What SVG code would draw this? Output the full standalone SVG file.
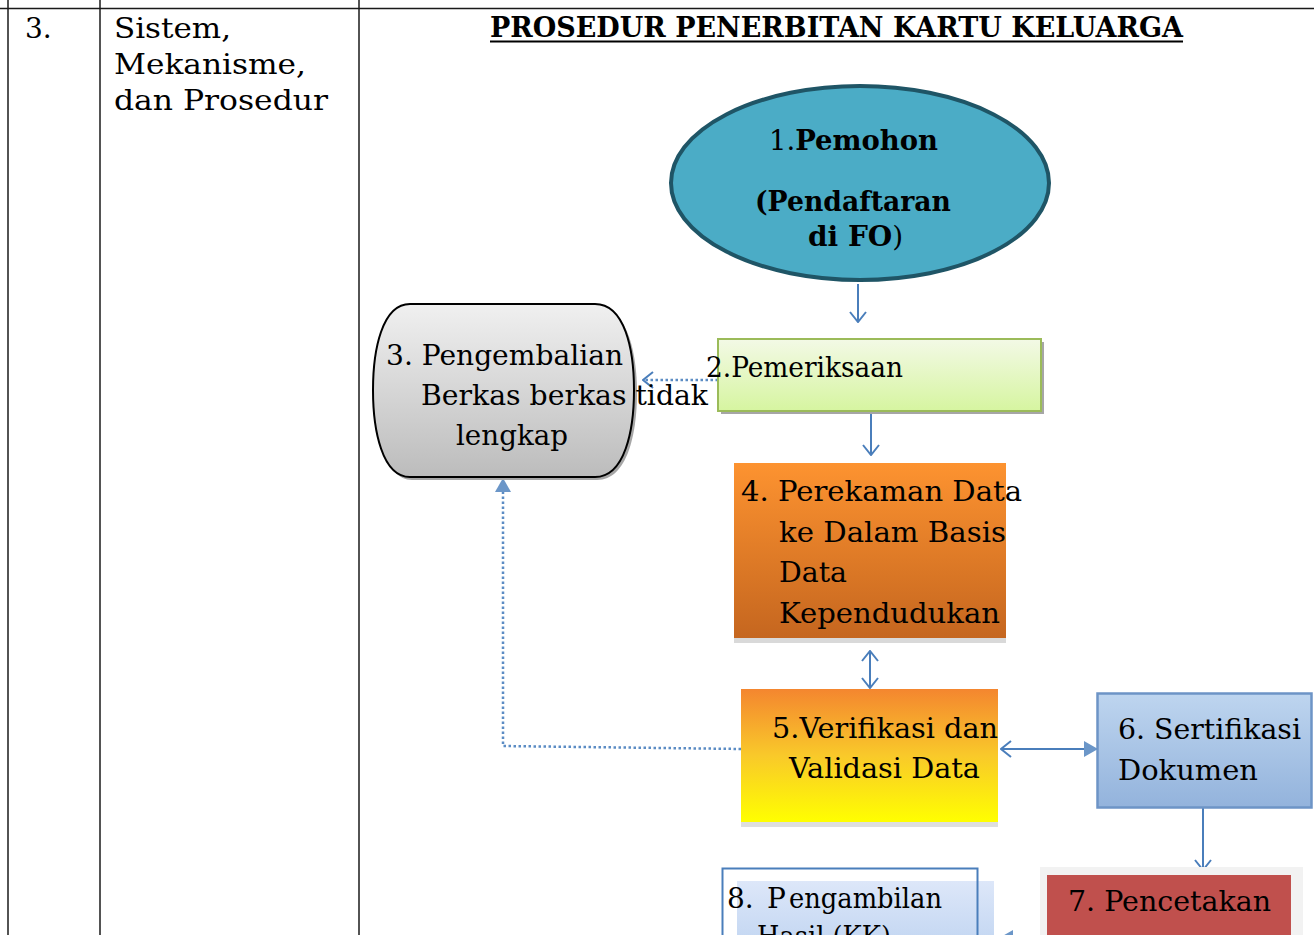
<svg xmlns="http://www.w3.org/2000/svg" width="1314" height="935" viewBox="0 0 1314 935">
  <style>
    .t { font-family: "DejaVu Serif", "Liberation Serif", serif; font-size: 28px; fill: #000; }
    .b { font-weight: bold; }
    .grid { stroke: #1a1a1a; stroke-width: 1.5; fill: none; }
    .conn { stroke: #4a7ebb; stroke-width: 2; fill: none; }
    .dot { stroke: #5b8cc4; stroke-width: 2.5; fill: none; stroke-dasharray: 2.5 2.5; }
  </style>
  <defs>
    <marker id="open" markerUnits="userSpaceOnUse" viewBox="0 0 12 18" refX="11" refY="9" markerWidth="12" markerHeight="18" orient="auto-start-reverse">
      <path d="M1,1 L11,9 L1,17" fill="none" stroke="#4a7ebb" stroke-width="2"/>
    </marker>
    <marker id="fill" markerUnits="userSpaceOnUse" viewBox="0 0 14 16" refX="13" refY="8" markerWidth="14" markerHeight="16" orient="auto">
      <path d="M0,0 L14,8 L0,16 Z" fill="#6b96c8"/>
    </marker>
    <linearGradient id="g2" x1="0" y1="0" x2="0" y2="1">
      <stop offset="0" stop-color="#f3f9e6"/>
      <stop offset="1" stop-color="#d6f5a0"/>
    </linearGradient>
    <linearGradient id="g3" x1="0" y1="0" x2="0" y2="1">
      <stop offset="0" stop-color="#f0f0f0"/>
      <stop offset="1" stop-color="#bcbcbc"/>
    </linearGradient>
    <linearGradient id="g4" x1="0" y1="0" x2="0" y2="1">
      <stop offset="0" stop-color="#fd9330"/>
      <stop offset="1" stop-color="#c5661f"/>
    </linearGradient>
    <linearGradient id="g5" x1="0" y1="0" x2="0" y2="1">
      <stop offset="0" stop-color="#f4862f"/>
      <stop offset="0.5" stop-color="#f9c92a"/>
      <stop offset="1" stop-color="#ffff00"/>
    </linearGradient>
    <linearGradient id="g6" x1="0" y1="0" x2="0" y2="1">
      <stop offset="0" stop-color="#bed5ef"/>
      <stop offset="1" stop-color="#93b3dc"/>
    </linearGradient>
    <linearGradient id="g8" x1="0" y1="0" x2="0" y2="1">
      <stop offset="0" stop-color="#dde7f9"/>
      <stop offset="1" stop-color="#c4d7f2"/>
    </linearGradient>
  </defs>

  <rect width="1314" height="935" fill="#fff"/>

  <!-- table frame -->
  <g id="table">
    <line class="grid" x1="0" y1="8.5" x2="1314" y2="8.5" stroke-width="2"/>
    <line class="grid" x1="8" y1="0" x2="8" y2="935"/>
    <line class="grid" x1="100" y1="0" x2="100" y2="935"/>
    <line class="grid" x1="359" y1="0" x2="359" y2="935"/>
    <text class="t" x="25" y="38">3.</text>
    <text class="t" x="114" y="38" textLength="117" lengthAdjust="spacingAndGlyphs">Sistem,</text>
    <text class="t" x="114" y="74" textLength="192" lengthAdjust="spacingAndGlyphs">Mekanisme,</text>
    <text class="t" x="114" y="110" textLength="214" lengthAdjust="spacingAndGlyphs">dan Prosedur</text>
  </g>

  <!-- heading -->
  <g id="title">
    <text class="t b" x="490" y="37" font-size="24" textLength="693" lengthAdjust="spacingAndGlyphs">PROSEDUR PENERBITAN  KARTU KELUARGA</text>
    <line x1="490" y1="41.5" x2="1183" y2="41.5" stroke="#000" stroke-width="2"/>
  </g>

  <!-- connectors -->
  <g id="connectors">
    <line class="conn" x1="858" y1="284" x2="858" y2="322" marker-end="url(#open)"/>
    <line class="conn" x1="871" y1="413" x2="871" y2="455" marker-end="url(#open)"/>
    <line class="conn" x1="870" y1="651" x2="870" y2="688" marker-start="url(#open)" marker-end="url(#open)"/>
    <line class="conn" x1="1001" y1="749" x2="1097" y2="749" stroke="#6b96c8" marker-start="url(#open)" marker-end="url(#fill)"/>
    <line class="conn" x1="1203" y1="808" x2="1203" y2="870" marker-end="url(#open)"/>
    <line class="dot" x1="718" y1="380" x2="643" y2="380" marker-end="url(#open)"/>
    <polyline class="dot" points="741,749 503,746 503,479" stroke="#6b96c8" marker-end="url(#fill)"/>
    <line class="conn" x1="1040" y1="938" x2="1000" y2="938" stroke="#6b96c8" marker-end="url(#fill)"/>
  </g>

  <!-- 1. applicant -->
  <g id="node1">
    <ellipse cx="860" cy="183" rx="189" ry="97" fill="#4bacc6" stroke="#1f5566" stroke-width="4"/>
    <text class="t" x="769" y="150" font-size="24" textLength="169" lengthAdjust="spacingAndGlyphs">1.<tspan class="b">Pemohon</tspan></text>
    <text class="t b" x="755" y="211" font-size="24" textLength="196" lengthAdjust="spacingAndGlyphs">(Pendaftaran</text>
    <text class="t" x="808" y="246" font-size="24"><tspan class="b">di FO</tspan>)</text>
  </g>

  <!-- 2. check -->
  <g id="node2">
    <rect x="721" y="342" width="323" height="72" fill="#a6a6a6"/>
    <rect x="718" y="339" width="323" height="72" fill="url(#g2)" stroke="#9bbb59" stroke-width="2"/>
    <text class="t" x="706" y="377" font-size="25" textLength="197" lengthAdjust="spacingAndGlyphs">2.Pemeriksaan</text>
  </g>

  <!-- 3. return of incomplete files -->
  <g id="node3">
    <path d="M412,307 L597,307 C627,307 637,352 637,393 C637,434 627,480 597,480 L412,480 C385,480 376,434 376,393 C376,352 385,307 412,307 Z" fill="#a6a6a6"/>
    <path d="M410,304 L595,304 C625,304 634,350 634,390 C634,430 625,477 595,477 L410,477 C382,477 373,430 373,390 C373,350 382,304 410,304 Z" fill="url(#g3)" stroke="#000" stroke-width="2"/>
    <text class="t" x="386" y="365" textLength="237" lengthAdjust="spacingAndGlyphs">3. Pengembalian</text>
    <text class="t" x="421" y="405" textLength="287" lengthAdjust="spacingAndGlyphs">Berkas berkas tidak</text>
    <text class="t" x="456" y="445" textLength="112" lengthAdjust="spacingAndGlyphs">lengkap</text>
  </g>

  <!-- 4. data recording -->
  <g id="node4">
    <rect x="734" y="638" width="272" height="5" fill="#d9d9d9"/>
    <rect x="734" y="463" width="272" height="175" fill="url(#g4)"/>
    <text class="t" x="741" y="501" textLength="281" lengthAdjust="spacingAndGlyphs">4. Perekaman Data</text>
    <text class="t" x="779" y="542" textLength="227" lengthAdjust="spacingAndGlyphs">ke Dalam Basis</text>
    <text class="t" x="779" y="582" textLength="68" lengthAdjust="spacingAndGlyphs">Data</text>
    <text class="t" x="779" y="623" textLength="221" lengthAdjust="spacingAndGlyphs">Kependudukan</text>
  </g>

  <!-- 5. verification -->
  <g id="node5">
    <rect x="741" y="822" width="257" height="5" fill="#dedede"/>
    <rect x="741" y="689" width="257" height="133" fill="url(#g5)"/>
    <text class="t" x="772" y="738" textLength="226" lengthAdjust="spacingAndGlyphs">5.Verifikasi dan</text>
    <text class="t" x="789" y="778" textLength="191" lengthAdjust="spacingAndGlyphs">Validasi Data</text>
  </g>

  <!-- 6. certification -->
  <g id="node6">
    <rect x="1097.5" y="693.5" width="214" height="114" fill="url(#g6)" stroke="#6d94c6" stroke-width="2.5"/>
    <text class="t" x="1118" y="739" textLength="183" lengthAdjust="spacingAndGlyphs">6. Sertifikasi</text>
    <text class="t" x="1118" y="780" textLength="140" lengthAdjust="spacingAndGlyphs">Dokumen</text>
  </g>

  <!-- 7. printing -->
  <g id="node7">
    <rect x="1040" y="867" width="263" height="70" fill="#f2f2f2"/>
    <rect x="1047" y="875" width="244" height="62" fill="#c0504d"/>
    <text class="t" x="1068" y="911" textLength="203" lengthAdjust="spacingAndGlyphs">7. Pencetakan</text>
  </g>

  <!-- 8. collection -->
  <g id="node8">
    <rect x="737" y="881" width="257" height="60" fill="url(#g8)"/>
    <rect x="722.5" y="868.5" width="255" height="70" fill="none" stroke="#4a7ebb" stroke-width="2"/>
    <text class="t" x="727" y="908">8.</text>
    <text class="t" x="767" y="908">P</text>
    <text class="t" x="789" y="908" textLength="153" lengthAdjust="spacingAndGlyphs">engambilan</text>
    <text class="t" x="757" y="946" textLength="134" lengthAdjust="spacingAndGlyphs">Hasil (KK)</text>
  </g>
</svg>
